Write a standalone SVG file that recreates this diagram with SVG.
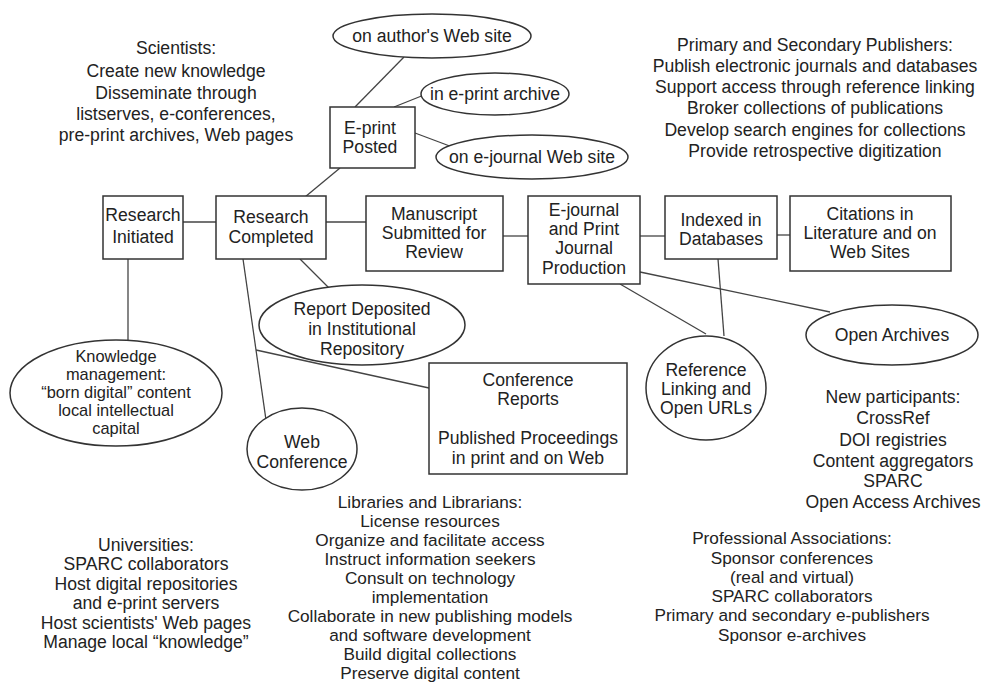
<svg xmlns="http://www.w3.org/2000/svg" width="987" height="684" viewBox="0 0 987 684">
<style>
text{font-family:"Liberation Sans",Arial,sans-serif;font-size:17.6px;fill:#222;text-anchor:middle}
.tight text{font-size:16.4px}
.mid text{font-size:17.2px}
.box{fill:#fff;stroke:#333;stroke-width:1.5}
.ell{fill:#fff;stroke:#333;stroke-width:1.5}
.conn line{stroke:#444;stroke-width:1.3}
</style>
<rect width="987" height="684" fill="#fff"/>
<g class="conn">
<line x1="128" y1="259" x2="128" y2="341"/>
<line x1="183" y1="222" x2="216" y2="222"/>
<line x1="326" y1="222" x2="366" y2="222"/>
<line x1="503" y1="236" x2="528" y2="236"/>
<line x1="640" y1="236" x2="665" y2="236"/>
<line x1="777" y1="235" x2="790" y2="235"/>
<line x1="305" y1="197" x2="340" y2="168"/>
<line x1="355" y1="107" x2="404" y2="57"/>
<line x1="394" y1="107" x2="424" y2="95"/>
<line x1="415" y1="133" x2="455" y2="148"/>
<line x1="300" y1="259" x2="330" y2="289"/>
<line x1="243" y1="259" x2="266" y2="420"/>
<line x1="256" y1="350" x2="429" y2="388"/>
<line x1="620" y1="284" x2="706" y2="334"/>
<line x1="718" y1="259" x2="724" y2="336"/>
<line x1="640" y1="272" x2="830" y2="312"/>
</g>
<g id="scientists"><text x="176" y="54">Scientists:</text><text x="176" y="77">Create new knowledge</text><text x="176" y="99">Disseminate through</text><text x="176" y="120">listserves, e-conferences,</text><text x="176" y="141">pre-print archives, Web pages</text></g>
<g id="publishers"><text x="815" y="51">Primary and Secondary Publishers:</text><text x="815" y="72">Publish electronic journals and databases</text><text x="815" y="93">Support access through reference linking</text><text x="815" y="114">Broker collections of publications</text><text x="815" y="136">Develop search engines for collections</text><text x="815" y="157">Provide retrospective digitization</text></g>
<g id="author-site"><ellipse class="ell" cx="432" cy="36" rx="99" ry="22"/><text x="432" y="42">on author's Web site</text></g>
<g id="eprint-archive"><ellipse class="ell" cx="495" cy="94" rx="74" ry="21"/><text x="495" y="100">in e-print archive</text></g>
<g id="ejournal-site"><ellipse class="ell" cx="532" cy="157" rx="96" ry="22"/><text x="532" y="163">on e-journal Web site</text></g>
<g id="eprint-posted"><rect class="box" x="330" y="107" width="85" height="61"/><text x="370" y="134">E-print</text><text x="370" y="153">Posted</text></g>
<g id="research-initiated"><rect class="box" x="103" y="196" width="80" height="63"/><text x="143" y="221">Research</text><text x="143" y="243">Initiated</text></g>
<g id="research-completed"><rect class="box" x="216" y="196" width="110" height="63"/><text x="271" y="223">Research</text><text x="271" y="243">Completed</text></g>
<g id="manuscript"><rect class="box" x="366" y="196" width="137" height="75"/><text x="434" y="220">Manuscript</text><text x="434" y="239">Submitted for</text><text x="434" y="258">Review</text></g>
<g id="ejournal"><rect class="box" x="528" y="196" width="112" height="88"/><text x="584" y="216">E-journal</text><text x="584" y="235">and Print</text><text x="584" y="254">Journal</text><text x="584" y="274">Production</text></g>
<g id="indexed"><rect class="box" x="665" y="196" width="112" height="63"/><text x="721" y="226">Indexed in</text><text x="721" y="245">Databases</text></g>
<g id="citations"><rect class="box" x="790" y="196" width="161" height="75"/><text x="870" y="220">Citations in</text><text x="870" y="239">Literature and on</text><text x="870" y="258">Web Sites</text></g>
<g id="report-deposited"><ellipse class="ell" cx="362" cy="325" rx="103" ry="40"/><text x="362" y="315">Report Deposited</text><text x="362" y="335">in Institutional</text><text x="362" y="355">Repository</text></g>
<g id="knowledge" class="tight"><ellipse class="ell" cx="116" cy="393" rx="106" ry="53"/><text x="116" y="362">Knowledge</text><text x="116" y="380">management:</text><text x="116" y="398">“born digital” content</text><text x="116" y="416">local intellectual</text><text x="116" y="434">capital</text></g>
<g id="web-conference"><ellipse class="ell" cx="302" cy="449" rx="55" ry="41"/><text x="302" y="448">Web</text><text x="302" y="468">Conference</text></g>
<g id="conference-reports"><rect class="box" x="429" y="363" width="198" height="111"/><text x="528" y="386">Conference</text><text x="528" y="405">Reports</text><text x="528" y="444">Published Proceedings</text><text x="528" y="464">in print and on Web</text></g>
<g id="reference-linking"><ellipse class="ell" cx="706" cy="388" rx="60" ry="52"/><text x="706" y="376">Reference</text><text x="706" y="395">Linking and</text><text x="706" y="414">Open URLs</text></g>
<g id="open-archives"><ellipse class="ell" cx="892" cy="335" rx="86" ry="30"/><text x="892" y="341">Open Archives</text></g>
<g id="new-participants"><text x="893" y="403">New participants:</text><text x="893" y="424">CrossRef</text><text x="893" y="446">DOI registries</text><text x="893" y="467">Content aggregators</text><text x="893" y="487">SPARC</text><text x="893" y="508">Open Access Archives</text></g>
<g id="universities"><text x="146" y="551">Universities:</text><text x="146" y="570">SPARC collaborators</text><text x="146" y="590">Host digital repositories</text><text x="146" y="609">and e-print servers</text><text x="146" y="629">Host scientists' Web pages</text><text x="146" y="648">Manage local “knowledge”</text></g>
<g id="libraries" class="mid"><text x="430" y="508">Libraries and Librarians:</text><text x="430" y="527">License resources</text><text x="430" y="546">Organize and facilitate access</text><text x="430" y="565">Instruct information seekers</text><text x="430" y="584">Consult on technology</text><text x="430" y="603">implementation</text><text x="430" y="622">Collaborate in new publishing models</text><text x="430" y="641">and software development</text><text x="430" y="660">Build digital collections</text><text x="430" y="679">Preserve digital content</text></g>
<g id="professional" class="mid"><text x="792" y="544">Professional Associations:</text><text x="792" y="564">Sponsor conferences</text><text x="792" y="583">(real and virtual)</text><text x="792" y="602">SPARC collaborators</text><text x="792" y="621">Primary and secondary e-publishers</text><text x="792" y="641">Sponsor e-archives</text></g>
</svg>
